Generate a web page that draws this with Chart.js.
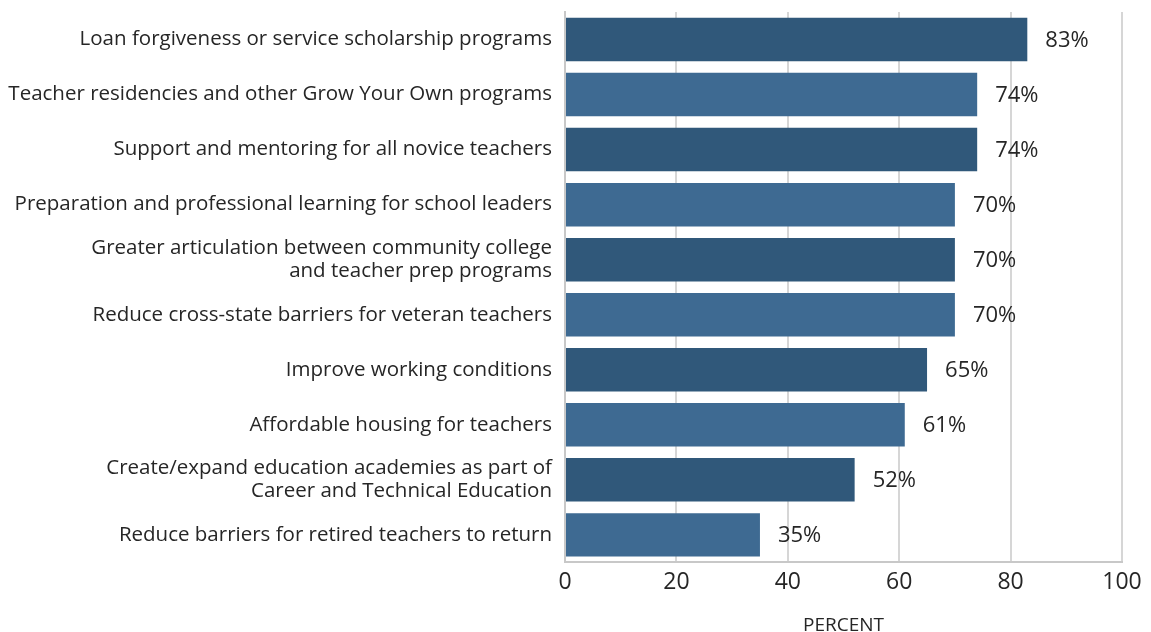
<!DOCTYPE html>
<html>
<head>
<meta charset="utf-8">
<script src="https://cdn.jsdelivr.net/npm/chart.js@4"></script>
<style>
  html, body { margin: 0; padding: 0; background: #fff; }
  #wrap { width: 1151px; height: 632px; }
</style>
</head>
<body>
<div id="wrap"><canvas id="chart"></canvas></div>
<script>
const categories = [
    'Loan forgiveness or service scholarship programs',
    'Teacher residencies and other Grow Your Own programs',
    'Support and mentoring for all novice teachers',
    'Preparation and professional learning for school leaders',
    ['Greater articulation between community college', 'and teacher prep programs'],
    'Reduce cross-state barriers for veteran teachers',
    'Improve working conditions',
    'Affordable housing for teachers',
    ['Create/expand education academies as part of', 'Career and Technical Education'],
    'Reduce barriers for retired teachers to return'
];
const percents = [83, 74, 74, 70, 70, 70, 65, 61, 52, 35];
const xTicks = [0, 20, 40, 60, 80, 100];

const darkBlue = '#30587a';
const lightBlue = '#3e6a92';
const textColor = '#262626';
const fontFamily = '"Open Sans", "Liberation Sans", Arial, sans-serif';

// value labels to the right of each bar
const barLabels = {
    id: 'barLabels',
    afterDatasetsDraw(chart) {
        const ctx = chart.ctx;
        const meta = chart.getDatasetMeta(0);
        ctx.save();
        ctx.font = '22px ' + fontFamily;
        ctx.fillStyle = textColor;
        ctx.textBaseline = 'middle';
        ctx.textAlign = 'left';
        meta.data.forEach((bar, i) => {
            ctx.fillText(percents[i] + '%', bar.x + 18, bar.y + 1);
        });
        ctx.restore();
    }
};

new Chart(document.getElementById('chart'), {
    type: 'bar',
    data: {
        labels: categories,
        datasets: [{
            data: percents,
            backgroundColor: percents.map((v, i) => i % 2 === 0 ? darkBlue : lightBlue),
            barPercentage: 0.79,
            categoryPercentage: 1.0
        }]
    },
    options: {
        indexAxis: 'y',
        responsive: true,
        maintainAspectRatio: false,
        animation: false,
        layout: { padding: { top: 12, right: 29, left: 0, bottom: 0 } },
        plugins: {
            legend: { display: false },
            tooltip: { enabled: false }
        },
        scales: {
            x: {
                min: 0,
                max: 100,
                afterBuildTicks: (scale) => { scale.ticks = xTicks.map(v => ({ value: v })); },
                grid: { color: '#d6d6d6', lineWidth: 2, drawTicks: false },
                border: { color: '#c8c8c8', width: 2 },
                ticks: {
                    color: textColor,
                    padding: 6,
                    font: { family: fontFamily, size: 23, lineHeight: 1.2 }
                },
                title: {
                    display: true,
                    text: 'PERCENT',
                    color: textColor,
                    padding: { top: 14, bottom: -3 },
                    font: { family: fontFamily, size: 19, lineHeight: 1 }
                }
            },
            y: {
                grid: { display: false, drawTicks: false },
                border: { color: '#c8c8c8', width: 2 },
                afterFit: (scale) => {
                    scale.width = 565;
                    scale.paddingTop = 0;
                    scale.paddingBottom = 0;
                },
                ticks: {
                    color: textColor,
                    padding: 13,
                    font: { family: fontFamily, size: 20.5, lineHeight: 1.1 }
                }
            }
        }
    },
    plugins: [barLabels]
});
</script>
</body>
</html>
